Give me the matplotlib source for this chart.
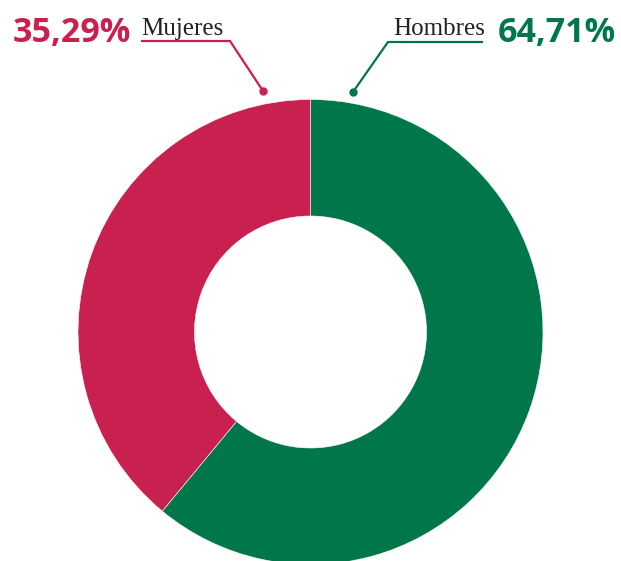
import matplotlib.pyplot as plt

# data
labels = ['Hombres', 'Mujeres']
values = [61.0, 39.0]          # slice sizes as drawn
pct_text = ['64,71%', '35,29%']
colors = ['#00774A', '#C82150']

W, H = 621, 561
fig = plt.figure(figsize=(W / 100, H / 100), dpi=100)
ax = fig.add_axes([0, 0, 1, 1])

cx, cy, r = 310.5, H - 332, 232.5
ax.pie(values, colors=colors, startangle=90, counterclock=False,
       center=(cx, cy), radius=r, frame=True,
       wedgeprops=dict(width=r - 116, edgecolor='white', linewidth=0.4))
ax.set_xlim(0, W)
ax.set_ylim(0, H)
ax.set_aspect('equal')
ax.axis('off')

# leader lines (pixel coords, y flipped)
def py(y):
    return H - y

# Mujeres
ax.plot([141, 230, 263], [py(41), py(41), py(91)], color=colors[1], lw=1.6,
        solid_capstyle='butt')
ax.plot(263, py(91), 'o', color=colors[1], ms=5)
ax.text(141, py(35), labels[1], fontsize=18, family='Liberation Serif',
        color='#222222', ha='left', va='baseline')
ax.text(131, py(42), pct_text[1], fontsize=24.5, family='Open Sans',
        fontweight='bold', color=colors[1], ha='right', va='baseline')

# Hombres
ax.plot([353, 388, 483], [py(92), py(42), py(42)], color=colors[0], lw=1.6,
        solid_capstyle='butt')
ax.plot(353, py(92), 'o', color=colors[0], ms=5)
ax.text(485, py(35), labels[0], fontsize=18, family='Liberation Serif',
        color='#222222', ha='right', va='baseline')
ax.text(498, py(42), pct_text[0], fontsize=24.5, family='Open Sans',
        fontweight='bold', color=colors[0], ha='left', va='baseline')

fig.savefig('out.png', dpi=100)
